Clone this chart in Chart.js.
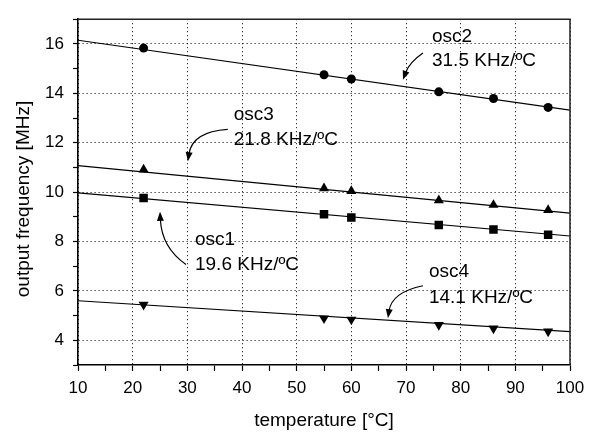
<!DOCTYPE html>
<html>
<head>
<meta charset="utf-8">
<script src="https://cdn.jsdelivr.net/npm/chart.js@4"></script>
<style>
html,body{margin:0;padding:0;background:#fff;}
#wrap{width:595px;height:434px;}
</style>
</head>
<body>
<div id="wrap"><canvas id="c" width="595" height="434"></canvas></div>
<script>
// ---- data ----
const temps = [22, 55, 60, 76, 86, 96];
const osc1 = [9.76, 9.10, 8.97, 8.67, 8.49, 8.27];
const osc2 = [15.83, 14.75, 14.58, 14.06, 13.79, 13.43];
const osc3 = [10.91, 10.15, 10.04, 9.67, 9.48, 9.27];
const osc4 = [5.44, 4.89, 4.84, 4.62, 4.48, 4.36];
const fitX = [10, 100];
const fit1 = [9.97, 8.22];
const fit2 = [16.15, 13.32];
const fit3 = [11.07, 9.15];
const fit4 = [5.60, 4.35];
const seriesNames = ['osc1', 'osc2', 'osc3', 'osc4'];
const rates = ['19.6 KHz/ºC', '31.5 KHz/ºC', '21.8 KHz/ºC', '14.1 KHz/ºC'];
const xTicks = [10, 20, 30, 40, 50, 60, 70, 80, 90, 100];
const yTicks = [4, 6, 8, 10, 12, 14, 16];
const xTitle = 'temperature [°C]';
const yTitle = 'output frequency [MHz]';

const FONT = "'Liberation Sans', Arial, Helvetica, sans-serif";

function pts(xs, ys) { return xs.map((x, i) => ({x: x, y: ys[i]})); }

// annotation placement (data units): text left x, line1 y, line2 y, arrow start/control/tip
const notes = [
  {i: 1, x: 74.75, y1: 16.30, y2: 15.32, a: [73.1, 15.63, 70.6, 15.25, 69.45, 14.55]},
  {i: 2, x: 38.5, y1: 13.13, y2: 12.11, a: [37.4, 12.54, 30.9, 12.45, 30.1, 11.25]},
  {i: 0, x: 31.4, y1: 8.08, y2: 7.07, a: [29.75, 7.07, 25.3, 7.75, 25.0, 9.2]},
  {i: 3, x: 74.2, y1: 6.79, y2: 5.74, a: [73.1, 6.21, 67.4, 5.95, 66.7, 4.9]}
];

const annot = {
  id: 'annot',
  afterDatasetsDraw(chart) {
    const ctx = chart.ctx, xs = chart.scales.x, ys = chart.scales.y;
    const ca = chart.chartArea;
    ctx.save();
    // frame top/right
    ctx.strokeStyle = '#222';
    ctx.lineWidth = 1.5;
    ctx.beginPath();
    ctx.moveTo(ca.left, ca.top);
    ctx.lineTo(ca.right, ca.top);
    ctx.lineTo(ca.right, ca.bottom);
    ctx.stroke();
    ctx.fillStyle = '#000';
    ctx.font = '19px ' + FONT;
    ctx.textAlign = 'left';
    ctx.textBaseline = 'middle';
    notes.forEach(n => {
      const px = xs.getPixelForValue(n.x);
      ctx.fillText(seriesNames[n.i], px, ys.getPixelForValue(n.y1));
      ctx.fillText(rates[n.i], px, ys.getPixelForValue(n.y2));
      const sx = xs.getPixelForValue(n.a[0]), sy = ys.getPixelForValue(n.a[1]);
      const cx = xs.getPixelForValue(n.a[2]), cy = ys.getPixelForValue(n.a[3]);
      const tx = xs.getPixelForValue(n.a[4]), ty = ys.getPixelForValue(n.a[5]);
      const ang = Math.atan2(ty - cy, tx - cx);
      const L = 9, W = 3.5;
      const bx = tx - Math.cos(ang) * L * 0.8, by = ty - Math.sin(ang) * L * 0.8;
      ctx.strokeStyle = '#000';
      ctx.lineWidth = 1.2;
      ctx.beginPath();
      ctx.moveTo(sx, sy);
      ctx.quadraticCurveTo(cx, cy, bx, by);
      ctx.stroke();
      ctx.beginPath();
      ctx.moveTo(tx, ty);
      ctx.lineTo(tx - Math.cos(ang) * L + Math.sin(ang) * W, ty - Math.sin(ang) * L - Math.cos(ang) * W);
      ctx.lineTo(tx - Math.cos(ang) * L - Math.sin(ang) * W, ty - Math.sin(ang) * L + Math.cos(ang) * W);
      ctx.closePath();
      ctx.fill();
    });
    // y axis title
    ctx.save();
    ctx.translate(24, 199);
    ctx.rotate(-Math.PI / 2);
    ctx.textAlign = 'center';
    ctx.textBaseline = 'middle';
    ctx.font = '19px ' + FONT;
    ctx.fillText(yTitle, 0, 0);
    ctx.restore();
    ctx.restore();
  }
};

const markerDs = (data, style, r, rot) => ({
  type: 'scatter', data: data, showLine: false,
  pointStyle: style, pointRadius: r, pointHoverRadius: r, pointRotation: rot || 0,
  backgroundColor: '#000', borderColor: '#000', borderWidth: 0
});
const lineDs = (data) => ({
  type: 'line', data: data, showLine: true, pointRadius: 0,
  borderColor: '#000', borderWidth: 1.1, fill: false
});

new Chart(document.getElementById('c'), {
  type: 'scatter',
  data: {
    datasets: [
      lineDs(pts(fitX, fit1)),
      lineDs(pts(fitX, fit2)),
      lineDs(pts(fitX, fit3)),
      lineDs(pts(fitX, fit4)),
      markerDs(pts(temps, osc1), 'rect', 6),
      markerDs(pts(temps, osc2), 'circle', 4.5),
      markerDs(pts(temps, osc3), 'triangle', 5.8),
      markerDs(pts(temps, osc4), 'triangle', 5.8, 180)
    ]
  },
  options: {
    responsive: false,
    animation: false,
    devicePixelRatio: 1,
    plugins: { legend: {display: false}, tooltip: {enabled: false} },
    layout: { padding: {top: 7, right: 25, left: 0, bottom: 0} },
    scales: {
      x: {
        type: 'linear', min: 10, max: 100,
        afterFit: s => { s.height = 69; },
        ticks: {
          stepSize: 5, autoSkip: false, maxRotation: 0, padding: 7,
          color: '#000', font: {family: FONT, size: 17},
          callback: v => xTicks.includes(v) ? String(v) : ''
        },
        grid: {
          color: c => (c.tick && xTicks.includes(c.tick.value)) ? '#000' : 'rgba(0,0,0,0)',
          lineWidth: 1, tickColor: '#000', tickLength: 6, tickWidth: 1.2
        },
        border: { display: true, color: '#000', width: 1.6, dash: [1, 3] },
        title: {
          display: true, text: xTitle, color: '#000',
          font: {family: FONT, size: 19}, padding: {top: 0, bottom: 1.5}
        }
      },
      y: {
        type: 'linear', min: 3, max: 17,
        afterFit: s => { s.width = 78; },
        ticks: {
          stepSize: 1, autoSkip: false, padding: 9,
          color: '#000', font: {family: FONT, size: 17},
          callback: v => yTicks.includes(v) ? String(v) : ''
        },
        grid: {
          color: c => (c.tick && yTicks.includes(c.tick.value)) ? '#000' : 'rgba(0,0,0,0)',
          lineWidth: 1, tickColor: '#000', tickLength: 5, tickWidth: 1.2
        },
        border: { display: true, color: '#000', width: 1.6, dash: [1, 3] }
      }
    }
  },
  plugins: [annot]
});
</script>
</body>
</html>
